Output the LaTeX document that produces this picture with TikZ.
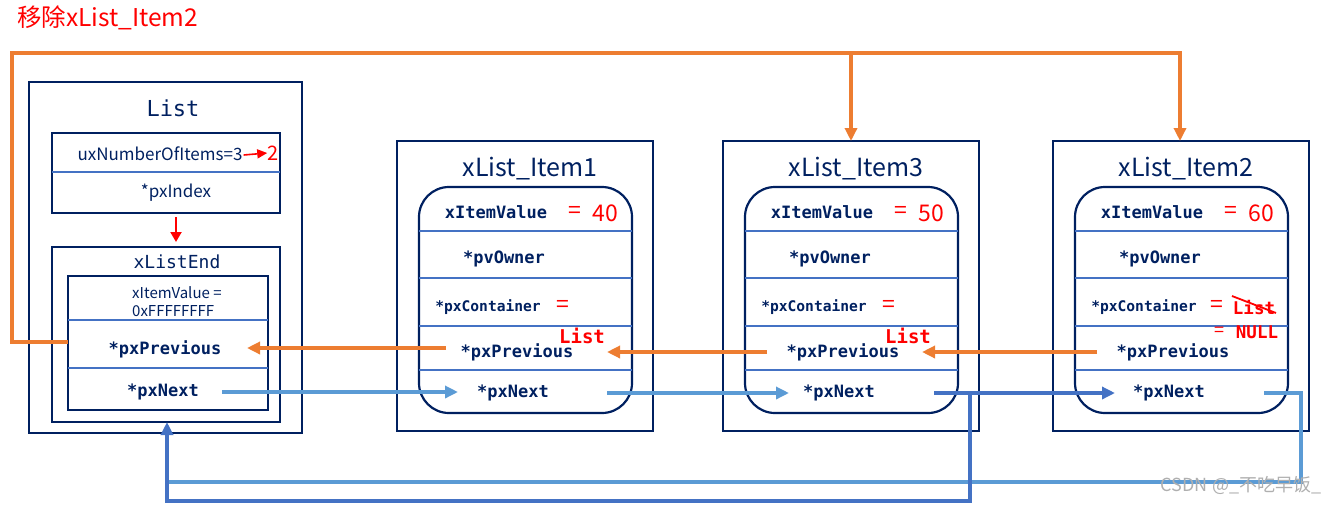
\documentclass[tikz,border=0pt]{standalone}
\usepackage{fontspec}
\setmainfont{Noto Sans CJK SC}
\newfontfamily\monob{DejaVu Sans Mono}
\usetikzlibrary{arrows.meta}
\definecolor{navy}{RGB}{0,32,96}
\definecolor{divb}{RGB}{68,114,196}
\definecolor{org}{RGB}{237,125,49}
\definecolor{lblue}{RGB}{91,155,213}
\definecolor{dblue}{RGB}{68,114,196}
\definecolor{wm}{RGB}{175,175,175}
\tikzset{
  outerbox/.style={draw=navy, line width=2.6pt},
  innerbox/.style={draw=navy, line width=2.2pt},
  divider/.style={draw=divb, line width=1.1pt},
  fld/.style={text=navy, inner sep=0, font=\monob\bfseries\fontsize{17}{20}\selectfont},
  fldsm/.style={text=navy, inner sep=0, font=\monob\bfseries\fontsize{14.6}{17}\selectfont},
  plain/.style={text=navy, inner sep=0, font=\fontsize{17}{20}\selectfont},
  small/.style={text=navy, inner sep=0, align=left, font=\fontsize{15}{18}\selectfont},
  redt/.style={text=red, inner sep=0, font=\fontsize{23}{26}\selectfont},
  redm/.style={text=red, inner sep=0, font=\monob\bfseries\fontsize{19}{22}\selectfont},
  ttl/.style={text=navy, inner sep=0, font=\fontsize{25}{30}\selectfont},
  mttl/.style={text=navy, inner sep=0, font=\monob\fontsize{#1}{#1}\selectfont},
  tip/.style={-{Triangle[length=13pt,width=12pt]}},
  orline/.style={draw=org, line width=3.4pt},
  lbline/.style={draw=lblue, line width=3.4pt},
  dbline/.style={draw=dblue, line width=3.4pt},
}
\newcommand\itemblock[4]{%
\begin{scope}[xshift=#2pt]
  \draw[outerbox] (397,141) rectangle (653,431);
  \node[ttl] (#1t) at (530,169) {#3};
  \draw[innerbox, rounded corners=30pt] (419,187) rectangle (632,413);
  \foreach \yy in {231,278,326,370} \draw[divider] (419,\yy) -- (632,\yy);
  \node[fld] (#1v) at (496,212) {xItemValue};
  \node[redt] (#1eq) at (575,212) {=};
  \node[redt] (#1n) at (605,213) {#4};
  \node[fld] (#1o) at (504,259) {*pvOwner};
  \node[fldsm] (#1c) at (488,307) {*pxContainer};
  \node[fld] (#1p) at (517,352) {*pxPrevious};
  \node[fld] (#1x) at (513,393) {*pxNext};
\end{scope}}
\begin{document}
\begin{tikzpicture}[x=1pt,y=-1pt]
\useasboundingbox (0,0) rectangle (1343,504);
% title
\node[text=red, inner sep=0, anchor=west, font=\fontsize{24.5}{28}\selectfont] (title) at (17,18) {移除xList\_Item2};
% List block
\draw[outerbox] (29,82) rectangle (302,433);
\node[mttl=22] (listt) at (173,108) {List};
\draw[innerbox] (52,133) rectangle (280,213);
\draw[divider] (52,172) -- (280,172);
\node[plain] (num) at (160,154) {uxNumberOfItems=3};
\node[text=red, inner sep=0, font=\fontsize{20}{22}\selectfont] (two) at (273,153) {2};
\draw[red, line width=1.6pt, -{Triangle[length=10pt,width=9pt]}] (num.east) ++(1pt,-1pt) -- (two.west);
\node[plain] (idx) at (176,193) {*pxIndex};
\coordinate (idxB) at (176,217);
\coordinate (endT) at (176,242);
\draw[red, line width=2pt, -{Triangle[length=10pt,width=11pt]}] (idxB) -- (endT);
\draw[outerbox] (52,247) rectangle (280,422);
\node[mttl=18] (endt) at (177,262) {xListEnd};
\draw[innerbox] (68,276) rectangle (268,410);
\draw[divider] (68,320) -- (268,320);
\draw[divider] (68,368) -- (268,368);
\node[small, anchor=west] (endv) at (132,302) {xItemValue =\\0xFFFFFFFF};
\node[fld] (lp) at (165,349) {*pxPrevious};
\node[fld] (lx) at (163,392) {*pxNext};
% items
\itemblock{a}{0}{xList\_Item1}{40}
\itemblock{b}{326}{xList\_Item3}{50}
\itemblock{c}{656}{xList\_Item2}{60}
% container annotations
\node[redt] (aeq2) at (563,306) {=};
\node[redm] (alist) at (582,336) {List};
\node[redt] (beq2) at (889,306) {=};
\node[redm] (blist) at (908,336) {List};
\node[redt] (ceq2) at (1217,306) {=};
\node[redm, font=\monob\bfseries\fontsize{17.5}{20}\selectfont] (clist) at (1254,308) {List};
\draw[red, line width=1.8pt] (1232,296) -- (1276,313);
\node[redt, font=\fontsize{18}{20}\selectfont] (ceq3) at (1219,332) {=};
\node[redm, font=\monob\bfseries\fontsize{17.5}{20}\selectfont] (cnull) at (1257,332) {NULL};
% connector coordinates
\coordinate (lpL) at (68,342);
\coordinate (lpR) at (247,348);
\coordinate (lxR) at (222,392);
\coordinate (lbot) at (167,422);
\coordinate (apL) at (446,348);
\coordinate (apR) at (607,352);
\coordinate (axL) at (458,392);
\coordinate (axR) at (607,393);
\coordinate (bpL) at (767,352);
\coordinate (bpR) at (922,352);
\coordinate (bxL) at (789,393);
\coordinate (bxR) at (934,393);
\coordinate (cpL) at (1097,352);
\coordinate (cxL) at (1115,393);
\coordinate (cxR) at (1264,393);
\coordinate (btop) at (851,141);
\coordinate (ctop) at (1180,141);
% orange
\draw[orline, tip] (lpL) -- (12,342) -- (12,53) -- (1180,53) -- (ctop);
\draw[orline, tip] (851,53) -- (btop);
\draw[orline, tip] (apL) -- (lpR);
\draw[orline, tip] (bpL) -- (apR);
\draw[orline, tip] (cpL) -- (bpR);
% blue
\draw[lbline, tip] (lxR) -- (axL);
\draw[lbline, tip] (axR) -- (bxL);
\draw[lbline] (cxR) -- (1301,393) -- (1301,482) -- (167,482);
\draw[dbline, tip] (bxR) -- (970,393) -- (970,501) -- (167,501) -- (lbot);
\draw[dbline, tip] (bxR) -- (cxL);
% watermark
\node[text=wm, inner sep=0, font=\fontsize{18}{20}\selectfont] (wmk) at (1241,485) {CSDN @\_不吃早饭\_};
\end{tikzpicture}
\end{document}
